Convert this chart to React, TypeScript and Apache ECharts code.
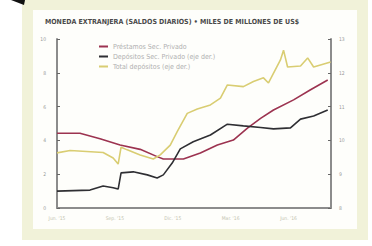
import React, { useEffect, useRef } from "react";
import * as echarts from "echarts";

// x = months since 1 Jun 2015
const prestamosX = [0, 1.19, 2.23, 3.27, 4.31, 5.19, 5.51, 6.55, 7.43, 8.31, 9.14, 9.87, 10.55, 11.22, 12.26, 13.14, 14.03];
const prestamosY = [4.42, 4.42, 4.1, 3.73, 3.47, 3.04, 2.9, 2.9, 3.25, 3.73, 4.02, 4.73, 5.3, 5.8, 6.4, 7.0, 7.57];

const depPrivX = [0, 1.71, 2.39, 2.91, 3.17, 3.32, 3.95, 4.68, 5.19, 5.51, 5.97, 6.39, 7.06, 7.95, 8.83, 9.66, 10.55, 11.22, 12.1, 12.62, 13.3, 14.03];
const depPrivY = [8.5, 8.53, 8.65, 8.6, 8.56, 9.04, 9.07, 8.98, 8.89, 8.98, 9.33, 9.75, 9.96, 10.16, 10.48, 10.43, 10.38, 10.34, 10.37, 10.63, 10.72, 10.9];

const totalX = [0, 0.68, 2.39, 2.91, 3.17, 3.32, 3.64, 4.31, 4.99, 5.35, 5.87, 6.23, 6.75, 7.27, 7.95, 8.47, 8.83, 9.66, 10.18, 10.7, 10.96, 11.58, 11.74, 11.95, 12.62, 12.99, 13.3, 14.18];
const totalY = [9.63, 9.7, 9.64, 9.48, 9.3, 9.8, 9.72, 9.57, 9.45, 9.57, 9.86, 10.26, 10.8, 10.93, 11.05, 11.25, 11.64, 11.59, 11.74, 11.85, 11.7, 12.38, 12.67, 12.17, 12.2, 12.44, 12.17, 12.32];

const xTickLabels = ["Jun. '15", "Sep. '15", "Dic. '15", "Mar. '16", "Jun. '16"];
const seriesNames = ["Préstamos Sec. Privado", "Depósitos Sec. Privado (eje der.)", "Total depósitos (eje der.)"];
const title = "MONEDA EXTRANJERA (SALDOS DIARIOS) • MILES DE MILLONES DE US$";

const zip = (xs: number[], ys: number[]) => xs.map((x, i) => [x, ys[i]]);

export default function App() {
  const ref = useRef<HTMLDivElement>(null);
  useEffect(() => {
    if (!ref.current) return;
    const chart = echarts.init(ref.current, null, { renderer: "svg" });
    const axisLine = { show: true, lineStyle: { color: "#8c8c8c", width: 2 } };
    const font = "DejaVu Sans Condensed";
    chart.setOption({
      animation: false,
      backgroundColor: "#ffffff",
      graphic: [
        { type: "rect", z: -10, shape: { x: 22, y: 0, width: 346, height: 240 }, style: { fill: "#f1f2d9" } },
        { type: "rect", z: -9, shape: { x: 33, y: 10, width: 324, height: 219 }, style: { fill: "#fefefb" } },
        { type: "polygon", z: -8, shape: { points: [[11, 0], [25, 0], [24, 5]] }, style: { fill: "#111" } },
        {
          type: "text", left: 45, top: 18,
          style: { text: title, fontSize: 7, fontWeight: "bold", fill: "#4a4a4a", fontFamily: font },
        },
      ],
      grid: { left: 57, right: 41, top: 39, bottom: 38 },
      legend: {
        left: 94, top: 38, orient: "vertical", itemWidth: 9, itemHeight: 2, itemGap: 3,
        icon: "rect",
        textStyle: { fontSize: 7, color: "#b0b0b0", fontFamily: font, lineHeight: 7, padding: [0, 0, 0, 0] },
        data: seriesNames,
      },
      xAxis: {
        type: "value", min: 0, max: 14.2, interval: 3,
        axisLine, splitLine: { show: false },
        axisTick: { show: false },
        axisLabel: {
          fontSize: 5, color: "#c4c4b0", fontFamily: font, margin: 7, showMaxLabel: false,
          formatter: (v: number) => xTickLabels[Math.round(v / 3)] ?? "",
        },
      },
      yAxis: [
        {
          type: "value", min: 0, max: 10, interval: 2, position: "left",
          axisLine, splitLine: { show: false },
          axisTick: { show: true, inside: true, length: 3, lineStyle: { color: "#666", width: 1 } },
          axisLabel: { fontSize: 5, color: "#999", fontFamily: font, margin: 11 },
        },
        {
          type: "value", min: 8, max: 13, interval: 1, position: "right",
          axisLine, splitLine: { show: false },
          axisTick: { show: true, inside: true, length: 3, lineStyle: { color: "#666", width: 1 } },
          axisLabel: { fontSize: 5, color: "#999", fontFamily: font, margin: 8 },
        },
      ],
      series: [
        {
          name: seriesNames[0], type: "line", yAxisIndex: 0, data: zip(prestamosX, prestamosY),
          showSymbol: false, lineStyle: { color: "#9c3350", width: 1.6 }, itemStyle: { color: "#9c3350" },
        },
        {
          name: seriesNames[1], type: "line", yAxisIndex: 1, data: zip(depPrivX, depPrivY),
          showSymbol: false, lineStyle: { color: "#2f2f33", width: 1.6 }, itemStyle: { color: "#2f2f33" },
        },
        {
          name: seriesNames[2], type: "line", yAxisIndex: 1, data: zip(totalX, totalY),
          showSymbol: false, lineStyle: { color: "#d9cd72", width: 1.6 }, itemStyle: { color: "#d9cd72" },
        },
      ],
    });
    return () => chart.dispose();
  }, []);
  return <div ref={ref} style={{ position: "absolute", left: 0, top: 0, width: 372, height: 246 }} />;
}
